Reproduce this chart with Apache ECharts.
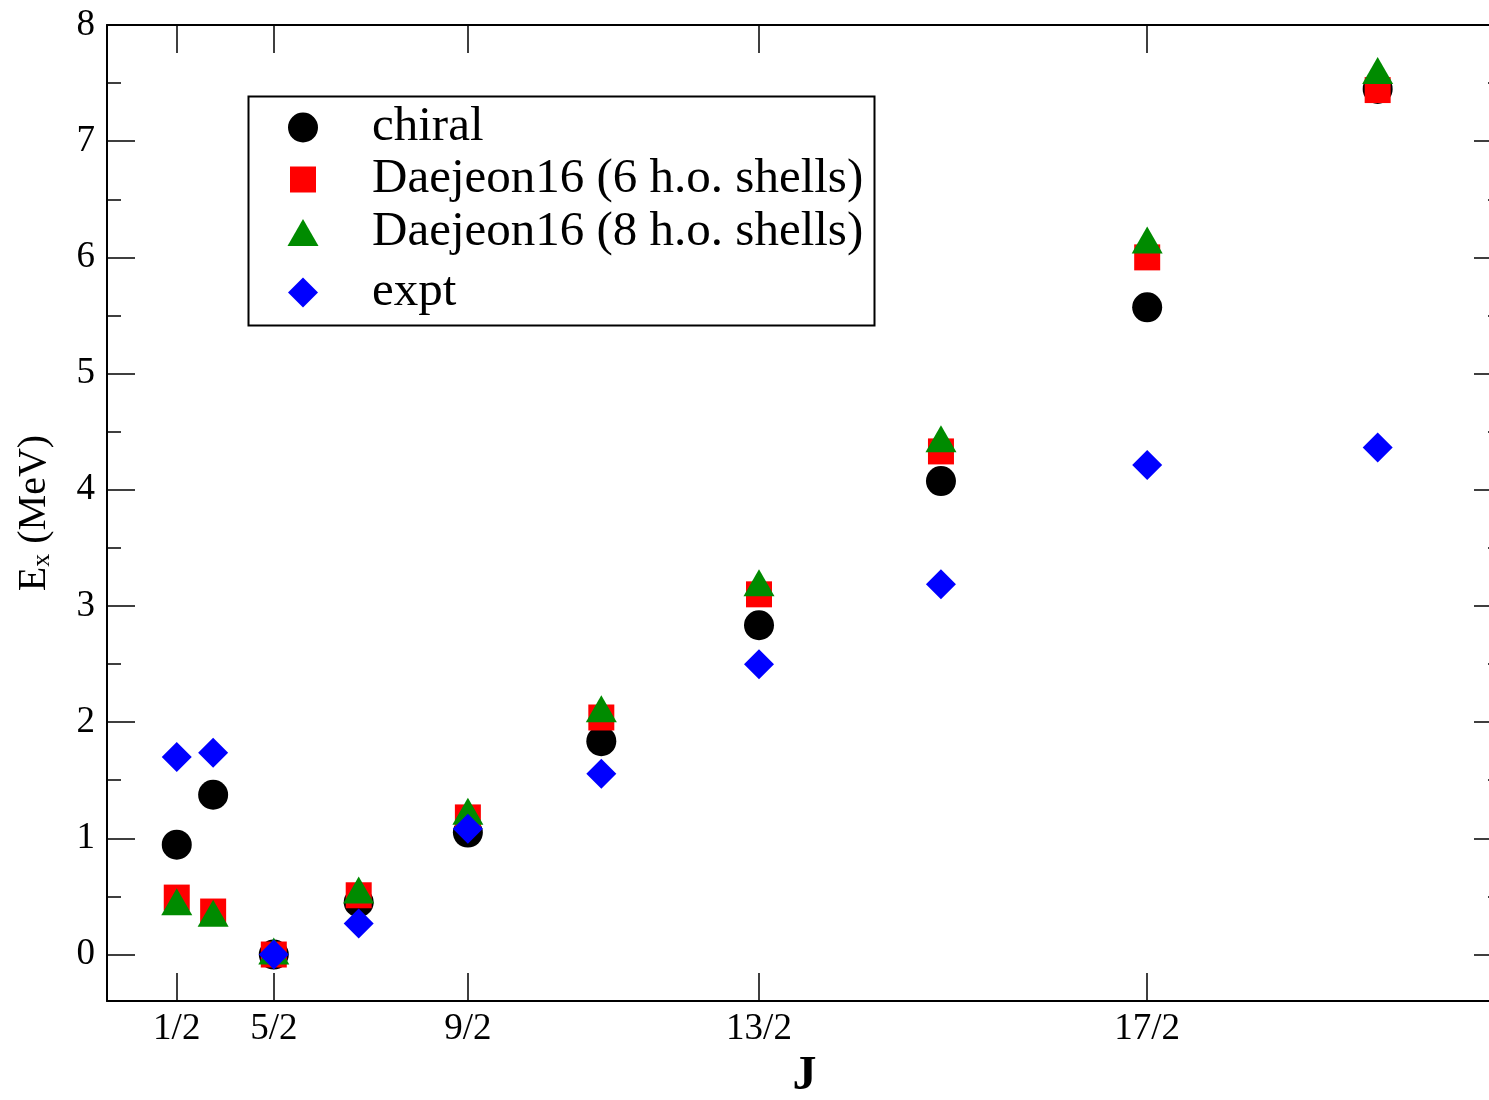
<!DOCTYPE html>
<html>
<head>
<meta charset="utf-8">
<script src="https://cdn.jsdelivr.net/npm/echarts@6.0.0/dist/echarts.min.js"></script>
<style>
  html, body { margin: 0; padding: 0; background: #ffffff; }
  #chart { width: 1489px; height: 1100px; }
</style>
</head>
<body>
<div id="chart"></div>
<script>
// Spin J of each level, in order of increasing J
const spins = ['1/2', '3/2', '5/2', '7/2', '9/2', '11/2', '13/2', '15/2', '17/2', '19/2'];

// Excitation energies E_x (MeV) per level
const chiral    = [0.945, 1.375, 0.00, 0.45, 1.05, 1.836, 2.834, 4.075, 5.57, 7.45];
const daejeon6  = [0.49, 0.37, 0.00, 0.51, 1.18, 2.04, 3.10, 4.33, 6.00, 7.44];
const daejeon8  = [0.454, 0.356, 0.03, 0.555, 1.234, 2.116, 3.20, 4.44, 6.15, 7.608];
const expt      = [1.70, 1.737, 0.00, 0.267, 1.083, 1.556, 2.498, 3.187, 4.214, 4.364];

// Axis tick labels
const xTickLabels = ['1/2', '5/2', '9/2', '13/2', '17/2'];
const yTickLabels = [0, 1, 2, 3, 4, 5, 6, 7, 8];
const yMinorTicks = [0.5, 1.5, 2.5, 3.5, 4.5, 5.5, 6.5, 7.5];

const seriesNames = ['chiral', 'Daejeon16 (6 h.o. shells)', 'Daejeon16 (8 h.o. shells)', 'expt'];

// The horizontal axis is linear in J(J+1)
function spinValue(s) {
  const p = s.split('/');
  return Number(p[0]) / Number(p[1]);
}
function jj(s) {
  const j = spinValue(s);
  return j * (j + 1);
}

const FONT = "'Liberation Serif', 'DejaVu Serif', serif";
const xTickValues = xTickLabels.map(jj);

function pairs(values) {
  return spins.map((s, i) => [jj(s), values[i]]);
}

const styles = [
  { symbol: 'circle',   size: 30,       color: '#000000', w: 30, h: 30, row: 127 },
  { symbol: 'rect',     size: 26,       color: '#ff0000', w: 26, h: 26, row: 179 },
  { symbol: 'triangle', size: [31, 27], color: '#008b00', w: 31, h: 27, row: 232 },
  { symbol: 'diamond',  size: 30,       color: '#0000ff', w: 30, h: 30, row: 292 }
];
const seriesData = [chiral, daejeon6, daejeon8, expt];

const axisLineStyle = { color: '#000', width: 2 };
const tickStyle = { color: '#000', width: 1.5 };

const X_MIN = -5, X_MAX = 110, Y_MIN = -0.4, Y_MAX = 8;
const plotRect = { left: 107, top: 25, width: 1395, height: 976, containLabel: false, outerBoundsMode: 'none' };

const chart = echarts.init(document.getElementById('chart'), null, { renderer: 'canvas' });

const option = {
  backgroundColor: '#ffffff',
  animation: false,
  // grid 0 carries the data, labels and major ticks; grid 1 overlays it with the minor y ticks
  grid: [ Object.assign({}, plotRect), Object.assign({}, plotRect) ],
  xAxis: [
    {
      type: 'value', gridIndex: 0, position: 'bottom', min: X_MIN, max: X_MAX,
      name: 'J', nameLocation: 'middle', nameGap: 50,
      nameTextStyle: { fontFamily: FONT, fontSize: 48, fontWeight: 'bold', color: '#000' },
      axisLine: { show: true, onZero: false, lineStyle: axisLineStyle },
      axisTick: { show: true, inside: true, length: 28, lineStyle: tickStyle, customValues: xTickValues },
      axisLabel: {
        show: true, margin: 10, fontFamily: FONT, fontSize: 37, color: '#000',
        customValues: xTickValues,
        formatter: function (v) {
          const i = xTickValues.findIndex(t => Math.abs(t - v) < 1e-6);
          return i >= 0 ? xTickLabels[i] : '';
        }
      },
      splitLine: { show: false }
    },
    {
      type: 'value', gridIndex: 0, position: 'top', min: X_MIN, max: X_MAX,
      axisLine: { show: true, onZero: false, lineStyle: axisLineStyle },
      axisTick: { show: true, inside: true, length: 28, lineStyle: tickStyle, customValues: xTickValues },
      axisLabel: { show: false },
      splitLine: { show: false }
    },
    {
      type: 'value', gridIndex: 1, position: 'bottom', min: X_MIN, max: X_MAX, show: false,
      axisLine: { onZero: false }
    }
  ],
  yAxis: [
    {
      type: 'value', gridIndex: 0, position: 'left', min: Y_MIN, max: Y_MAX,
      name: '{e|E}{s|x}{e| (MeV)}', nameLocation: 'middle', nameGap: 52, nameRotate: 90,
      nameTextStyle: {
        color: '#000',
        rich: {
          e: { fontFamily: FONT, fontSize: 40, color: '#000', lineHeight: 42 },
          s: { fontFamily: FONT, fontSize: 26, color: '#000', lineHeight: 12, verticalAlign: 'bottom' }
        }
      },
      axisLine: { show: true, onZero: false, lineStyle: axisLineStyle },
      axisTick: { show: true, inside: true, length: 28, lineStyle: tickStyle, customValues: yTickLabels },
      axisLabel: {
        show: true, margin: 12, fontFamily: FONT, fontSize: 37, color: '#000',
        customValues: yTickLabels
      },
      splitLine: { show: false }
    },
    {
      type: 'value', gridIndex: 0, position: 'right', min: Y_MIN, max: Y_MAX,
      axisLine: { show: true, onZero: false, lineStyle: axisLineStyle },
      axisTick: { show: true, inside: true, length: 28, lineStyle: tickStyle, customValues: yTickLabels },
      axisLabel: { show: false },
      splitLine: { show: false }
    },
    {
      type: 'value', gridIndex: 1, position: 'left', min: Y_MIN, max: Y_MAX,
      axisLine: { show: false, onZero: false },
      axisTick: { show: true, inside: true, length: 14, lineStyle: tickStyle, customValues: yMinorTicks },
      axisLabel: { show: false },
      splitLine: { show: false }
    },
    {
      type: 'value', gridIndex: 1, position: 'right', min: Y_MIN, max: Y_MAX,
      axisLine: { show: false, onZero: false },
      axisTick: { show: true, inside: true, length: 14, lineStyle: tickStyle, customValues: yMinorTicks },
      axisLabel: { show: false },
      splitLine: { show: false }
    }
  ],
  legend: styles.map((st, i) => ({
    data: [{ name: seriesNames[i], icon: st.symbol }],
    orient: 'vertical',
    left: 303 - st.w / 2,
    top: st.row - 24,
    padding: 0,
    itemWidth: st.w,
    itemHeight: st.h,
    selectedMode: false,
    textStyle: {
      fontFamily: FONT, fontSize: 49, color: '#000',
      padding: [0, 0, 0, 64 - st.w / 2]
    }
  })),
  graphic: [
    {
      type: 'rect', left: 246, top: 94, z: 10,
      shape: { width: 626, height: 229 },
      style: { fill: 'none', stroke: '#000', lineWidth: 2 }
    }
  ],
  series: styles.map((st, i) => ({
    name: seriesNames[i],
    type: 'scatter',
    xAxisIndex: 0, yAxisIndex: 0,
    symbol: st.symbol,
    symbolSize: st.size,
    itemStyle: { color: st.color, opacity: 1 },
    emphasis: { disabled: true },
    z: 2 + i,
    data: pairs(seriesData[i])
  }))
};

chart.setOption(option);
</script>
</body>
</html>
